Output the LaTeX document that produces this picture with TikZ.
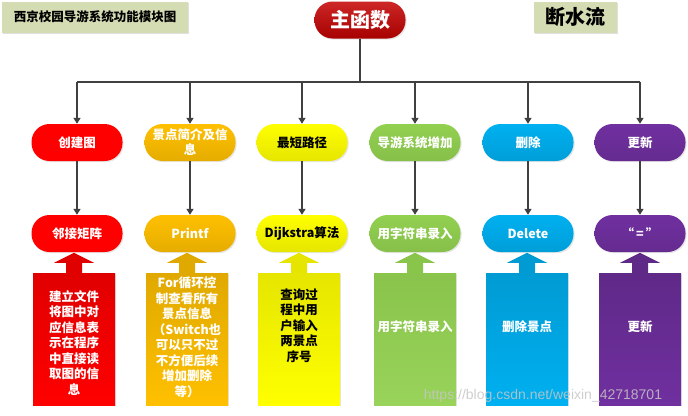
\documentclass[tikz,border=0pt]{standalone}
\usepackage{fontspec}
\setmainfont{Noto Sans CJK SC}
\newfontfamily\wmfont{Liberation Sans}
\usetikzlibrary{arrows.meta, shadows}

\definecolor{lineg}{HTML}{404040}
\definecolor{titlebg}{HTML}{D3DCB2}
\definecolor{mainr}{HTML}{C40000}
\definecolor{cred}{HTML}{FF0000}
\definecolor{corange}{HTML}{FFC000}
\definecolor{cyellow}{HTML}{FFFF00}
\definecolor{cgreen}{HTML}{92D050}
\definecolor{cblue}{HTML}{00B0F0}
\definecolor{cpurple}{HTML}{7030A0}

\tikzset{
  uphead/.pic={\fill[pic actions] (-8pt,0) -- (-8pt,10pt) -- (-20pt,10pt) -- (0,20pt)
    -- (20pt,10pt) -- (8pt,10pt) -- (8pt,0) -- cycle;}
}

\begin{document}
\begin{tikzpicture}[x=1pt, y=-1pt, >={Triangle[width=7pt,length=6pt]},
    link/.style={draw=lineg, line width=1.6pt},
    titlebox/.style={fill=titlebg, minimum height=31pt, inner sep=2pt,
      font=\bfseries\fontsize{12.5}{14}\selectfont,
      drop shadow={shadow xshift=1pt, shadow yshift=-1pt, opacity=0.25}},
    pill/.style={rounded corners=18pt, minimum width=91pt, minimum height=37pt, inner sep=2pt,
      align=center, text=white, font=\bfseries\fontsize{12.5}{15}\selectfont,
      drop shadow={shadow xshift=1.2pt, shadow yshift=-1.2pt, opacity=0.2}},
    body/.style={minimum width=82pt, minimum height=132pt, inner sep=0pt,
      drop shadow={shadow xshift=1.2pt, shadow yshift=-1.2pt, opacity=0.2}},
    bodytext/.style={align=center, text=white, font=\bfseries\fontsize{12.5}{15.5}\selectfont},
    watermark/.style={text=gray!45, text opacity=0.85, font=\wmfont\fontsize{14}{14}\selectfont}]

    \useasboundingbox (0,0) rectangle (688,415);

    % 标题
    \node[titlebox, minimum width=186pt] (title) at (95,17) {西京校园导游系统功能模块图};
    \node[titlebox, minimum width=83pt, font=\bfseries\fontsize{20}{22}\selectfont] (author) at (575,17) {断水流};

    % 主函数
    \node[pill, top color=mainr!85!white, bottom color=mainr!85!black,
      font=\bfseries\fontsize{20}{22}\selectfont] (main) at (360,20) {主函数};

    % 第一层
    \node[pill, fill=cred] (p1) at (77,142.5) {创建图};
    \node[pill, top color=corange, bottom color=corange!90!black] (p2) at (190,142.5) {景点简介及信\\息};
    \node[pill, top color=cyellow, bottom color=cyellow!90!black, text=black] (p3) at (302,142.5) {最短路径};
    \node[pill, top color=cgreen, bottom color=cgreen!92!black] (p4) at (415,142.5) {导游系统增加};
    \node[pill, top color=cblue, bottom color=cblue!90!black] (p5) at (528,142.5) {删除};
    \node[pill, top color=cpurple, bottom color=cpurple!90!black] (p6) at (640,142.5) {更新};

    % 第二层
    \node[pill, fill=cred] (q1) at (77,233.5) {邻接矩阵};
    \node[pill, top color=corange, bottom color=corange!90!black] (q2) at (190,233.5) {Printf};
    \node[pill, top color=cyellow, bottom color=cyellow!90!black, text=black] (q3) at (302,233.5) {Dijkstra算法};
    \node[pill, top color=cgreen, bottom color=cgreen!92!black] (q4) at (415,233.5) {用字符串录入};
    \node[pill, top color=cblue, bottom color=cblue!90!black] (q5) at (528,233.5) {Delete};
    \node[pill, top color=cpurple, bottom color=cpurple!90!black] (q6) at (640,233.5) {“\,=\,”};

    % 说明框
    \node[body, top color=cred!88!black, bottom color=cred] (b1) at (74,339) {};
    \node[body, top color=corange!88!black, bottom color=corange] (b2) at (187,339) {};
    \node[body, top color=cyellow!90!black, bottom color=cyellow] (b3) at (299,339) {};
    \node[body, top color=cgreen!94!black, bottom color=cgreen!94!white] (b4) at (415,339) {};
    \node[body, top color=cblue!88!black, bottom color=cblue] (b5) at (527,339) {};
    \node[body, top color=cpurple!85!black, bottom color=cpurple] (b6) at (640,339) {};

    \pic[fill=cred!88!black] at (b1.north) {uphead};
    \pic[fill=corange!88!black] at (b2.north) {uphead};
    \pic[fill=cyellow!90!black] at (b3.north) {uphead};
    \pic[fill=cgreen!94!black] at (b4.north) {uphead};
    \pic[fill=cblue!88!black] at (b5.north) {uphead};
    \pic[fill=cpurple!85!black] at (b6.north) {uphead};

    \node[bodytext] (t1) at (74,343) {建立文件\\将图中对\\应信息表\\示在程序\\中直接读\\取图的信\\息};
    \node[bodytext] (t2) at (187,337.5) {For循环控\\制查看所有\\景点信息\\（Switch也\\可以只不过\\不方便后续\\增加删除\\等）};
    \node[bodytext, text=black] (t3) at (299,325.5) {查询过\\程中用\\户输入\\两景点\\序号};
    \node[bodytext] (t4) at (415,327) {用字符串录入};
    \node[bodytext] (t5) at (527,327) {删除景点};
    \node[bodytext] (t6) at (640,327) {更新};

    % 箭头
    \coordinate (bus) at (360,82);
    \draw[link] (main) -- (bus);
    \draw[link] (p1.north |- bus) -- (p6.north |- bus);
    \draw[link, ->] (p1.north |- bus) -- (p1.north);
    \draw[link, ->] (p2.north |- bus) -- (p2.north);
    \draw[link, ->] (p3.north |- bus) -- (p3.north);
    \draw[link, ->] (p4.north |- bus) -- (p4.north);
    \draw[link, ->] (p5.north |- bus) -- (p5.north);
    \draw[link, ->] (p6.north |- bus) -- (p6.north);

    \draw[link, ->] (p1) -- (q1);
    \draw[link, ->] (p2) -- (q2);
    \draw[link, ->] (p3) -- (q3);
    \draw[link, ->] (p4) -- (q4);
    \draw[link, ->] (p5) -- (q5);
    \draw[link, ->] (p6) -- (q6);

    % 水印
    \node[watermark] (wm) at (543,396) {https://blog.csdn.net/weixin\_42718701};
\end{tikzpicture}
\end{document}
